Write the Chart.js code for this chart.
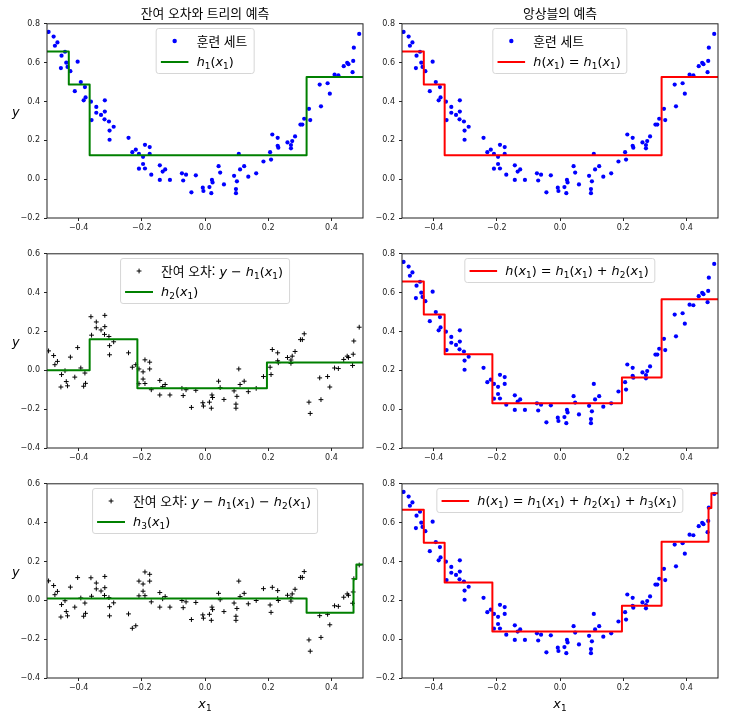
<!DOCTYPE html>
<html lang="ko">
<head>
<meta charset="UTF-8"/>
<title>잔여 오차와 트리의 예측 / 앙상블의 예측</title>
<script src="https://cdn.jsdelivr.net/npm/chart.js"></script>
<style>
  body { margin: 0; background: #fff; }
  #fig { position: relative; width: 738px; height: 718px; background: #fff; overflow: hidden; }
  .panel { position: absolute; }
  .panel canvas { display: block; }
  .title { position: absolute; width: 316px; top: 4px; font-family: "Noto Sans CJK KR"; font-size: 12.8px; line-height: 17px; text-align: center; color: #000; }
  .ylab { position: absolute; left: 12px; font-family: "DejaVu Sans"; font-style: italic; font-size: 12.8px; line-height: 16px; }
  .xlab { position: absolute; width: 316px; top: 696px; text-align: center; font-family: "DejaVu Sans"; font-size: 12.8px; line-height: 16px; }
  .legend { position: absolute; transform: translateX(-50%); border: 1px solid #d6d6d6; border-radius: 3px;
            background: rgba(255,255,255,0.8); padding: 1px 6px 1px 4px; font-family: "DejaVu Sans"; font-size: 12.8px;
            white-space: nowrap; color: #000; }
  .legend .row { display: flex; align-items: center; height: 21px; }
  .legend svg { flex: none; margin-right: 8px; }
  .ko { font-family: "Noto Sans CJK KR"; }
  sub { font-size: 70%; vertical-align: -0.3em; line-height: 0; font-style: normal; }
</style>
</head>
<body>
<div id="fig">
  <div class="panel" style="left:2px;top:15px"><canvas id="c1" width="369" height="227"></canvas></div>
  <div class="panel" style="left:357px;top:15px"><canvas id="c2" width="369" height="227"></canvas></div>
  <div class="panel" style="left:2px;top:245px"><canvas id="c3" width="369" height="227"></canvas></div>
  <div class="panel" style="left:357px;top:245px"><canvas id="c4" width="369" height="227"></canvas></div>
  <div class="panel" style="left:2px;top:475px"><canvas id="c5" width="369" height="227"></canvas></div>
  <div class="panel" style="left:357px;top:475px"><canvas id="c6" width="369" height="227"></canvas></div>

  <div class="title" style="left:47px">잔여 오차와 트리의 예측</div>
  <div class="title" style="left:402px">앙상블의 예측</div>

  <div class="ylab" style="top:104px">y</div>
  <div class="ylab" style="top:334px">y</div>
  <div class="ylab" style="top:564px">y</div>

  <div class="xlab" style="left:47px"><i>x</i><sub>1</sub></div>
  <div class="xlab" style="left:402px"><i>x</i><sub>1</sub></div>

  <!-- legends -->
  <div class="legend" style="left:205px;top:28px">
    <div class="row"><svg width="28" height="10"><circle cx="14" cy="5" r="2.2" fill="#0000ff"/></svg><span class="ko">훈련 세트</span></div>
    <div class="row"><svg width="28" height="10"><line x1="0" y1="5" x2="28" y2="5" stroke="#008000" stroke-width="2"/></svg><span><i>h</i><sub>1</sub>(<i>x</i><sub>1</sub>)</span></div>
  </div>
  <div class="legend" style="left:560px;top:28px">
    <div class="row"><svg width="28" height="10"><circle cx="14" cy="5" r="2.2" fill="#0000ff"/></svg><span class="ko">훈련 세트</span></div>
    <div class="row"><svg width="28" height="10"><line x1="0" y1="5" x2="28" y2="5" stroke="#ff0000" stroke-width="2"/></svg><span><i>h</i>(<i>x</i><sub>1</sub>) = <i>h</i><sub>1</sub>(<i>x</i><sub>1</sub>)</span></div>
  </div>
  <div class="legend" style="left:205px;top:258px">
    <div class="row"><svg width="28" height="10"><path d="M11.6 5H16.4M14 2.6V7.4" stroke="#000" stroke-width="1"/></svg><span><span class="ko">잔여 오차:</span> <i>y</i> − <i>h</i><sub>1</sub>(<i>x</i><sub>1</sub>)</span></div>
    <div class="row"><svg width="28" height="10"><line x1="0" y1="5" x2="28" y2="5" stroke="#008000" stroke-width="2"/></svg><span><i>h</i><sub>2</sub>(<i>x</i><sub>1</sub>)</span></div>
  </div>
  <div class="legend" style="left:560px;top:258px">
    <div class="row"><svg width="28" height="10"><line x1="0" y1="5" x2="28" y2="5" stroke="#ff0000" stroke-width="2"/></svg><span><i>h</i>(<i>x</i><sub>1</sub>) = <i>h</i><sub>1</sub>(<i>x</i><sub>1</sub>) + <i>h</i><sub>2</sub>(<i>x</i><sub>1</sub>)</span></div>
  </div>
  <div class="legend" style="left:205px;top:488px">
    <div class="row"><svg width="28" height="10"><path d="M11.6 5H16.4M14 2.6V7.4" stroke="#000" stroke-width="1"/></svg><span><span class="ko">잔여 오차:</span> <i>y</i> − <i>h</i><sub>1</sub>(<i>x</i><sub>1</sub>) − <i>h</i><sub>2</sub>(<i>x</i><sub>1</sub>)</span></div>
    <div class="row"><svg width="28" height="10"><line x1="0" y1="5" x2="28" y2="5" stroke="#008000" stroke-width="2"/></svg><span><i>h</i><sub>3</sub>(<i>x</i><sub>1</sub>)</span></div>
  </div>
  <div class="legend" style="left:560px;top:488px">
    <div class="row"><svg width="28" height="10"><line x1="0" y1="5" x2="28" y2="5" stroke="#ff0000" stroke-width="2"/></svg><span><i>h</i>(<i>x</i><sub>1</sub>) = <i>h</i><sub>1</sub>(<i>x</i><sub>1</sub>) + <i>h</i><sub>2</sub>(<i>x</i><sub>1</sub>) + <i>h</i><sub>3</sub>(<i>x</i><sub>1</sub>)</span></div>
  </div>
</div>

<script>
// training set
const trainX = [
  -0.495, -0.479, -0.467, -0.475, -0.443, -0.454, -0.403, -0.439, -0.435, -0.456,
  -0.426, -0.393, -0.380, -0.412, -0.378, -0.384, -0.361, -0.317, -0.344, -0.344,
  -0.329, -0.317, -0.359, -0.318, -0.304, -0.289, -0.302, -0.302, -0.242,
  -0.219, -0.230, -0.190, -0.175, -0.209, -0.196, -0.175, -0.196, -0.209, -0.190,
  -0.170, -0.143, -0.134, -0.126, -0.143, -0.111, -0.073, -0.060, -0.069, -0.029,
  -0.043, -0.007, -0.005, 0.014,
  0.020, 0.022, 0.024, 0.043, 0.048, 0.060, 0.092, 0.101, 0.098, 0.098,
  0.107, 0.111, 0.124, 0.137, 0.162, 0.185, 0.206, 0.209, 0.213, 0.230,
  0.230, 0.232, 0.261,
  0.272, 0.272, 0.276, 0.285, 0.302, 0.308, 0.314, 0.333, 0.329, 0.367,
  0.395, 0.363, 0.388, 0.410, 0.422, 0.439, 0.450, 0.454, 0.467, 0.469,
  0.471, 0.488
];
const trainY = [
  0.758, 0.734, 0.704, 0.687, 0.656, 0.636, 0.605, 0.600, 0.578, 0.572,
  0.556, 0.500, 0.474, 0.453, 0.421, 0.406, 0.399, 0.406, 0.372, 0.342,
  0.331, 0.348, 0.304, 0.308, 0.297, 0.270, 0.250, 0.203, 0.213,
  0.152, 0.139, 0.177, 0.165, 0.130, 0.115, 0.130, 0.078, 0.054, 0.055,
  0.023, 0.071, 0.039, 0.050, -0.004, -0.004, 0.030, 0.023, -0.007, 0.020,
  -0.068, -0.044, -0.061, -0.041,
  -0.072, -0.004, -0.017, 0.067, 0.034, -0.027, 0.017, -0.011, -0.051, -0.072,
  0.130, 0.050, 0.067, 0.013, 0.030, 0.091, 0.139, 0.101, 0.230, 0.213,
  0.172, 0.162, 0.189,
  0.176, 0.159, 0.196, 0.220, 0.281, 0.281, 0.311, 0.304, 0.362, 0.375,
  0.440, 0.487, 0.494, 0.538, 0.535, 0.582, 0.599, 0.592, 0.551, 0.609,
  0.677, 0.748
];

// the three regression trees: split points and leaf values
const tree1Splits = [-0.431, -0.365, 0.3215];
const tree1Values = [0.658, 0.488, 0.123, 0.526];
const tree2Splits = [-0.365, -0.214, 0.196];
const tree2Values = [0.0, 0.160, -0.092, 0.040];
const tree3Splits = [0.3215, 0.470, 0.479];
const tree3Values = [0.009, -0.064, 0.110, 0.185];

const xTicks = [-0.4, -0.2, 0, 0.2, 0.4];
const yTicksData = [-0.2, 0, 0.2, 0.4, 0.6, 0.8];
const yTicksResidual = [-0.4, -0.2, 0, 0.2, 0.4, 0.6];

const tree1 = { splits: tree1Splits, values: tree1Values };
const tree2 = { splits: tree2Splits, values: tree2Values };
const tree3 = { splits: tree3Splits, values: tree3Values };

function predict(t, x) {
  let i = 0;
  while (i < t.splits.length && x > t.splits[i]) i++;
  return t.values[i];
}

// step line of the summed trees over [-0.5, 0.5]
function stepLine(trees) {
  const cuts = [...new Set(trees.flatMap(t => t.splits))].sort((a, b) => a - b);
  const edges = [-0.5, ...cuts, 0.5];
  const pts = [];
  for (let i = 0; i < edges.length - 1; i++) {
    const mid = (edges[i] + edges[i + 1]) / 2;
    const v = trees.reduce((s, t) => s + predict(t, mid), 0);
    pts.push({ x: edges[i], y: v }, { x: edges[i + 1], y: v });
  }
  return pts;
}

const trainPts = trainX.map((x, i) => ({ x: x, y: trainY[i] }));
const resid1 = trainX.map((x, i) => ({ x: x, y: trainY[i] - predict(tree1, x) }));
const resid2 = trainX.map((x, i) => ({ x: x, y: trainY[i] - predict(tree1, x) - predict(tree2, x) }));

const fmt = v => (Math.abs(v) < 1e-9 ? 0 : v).toFixed(1).replace('-', '\u2212');

// matplotlib style frame on all four sides
const frame = {
  id: 'frame',
  afterDatasetsDraw(chart) {
    const a = chart.chartArea, c = chart.ctx;
    c.save();
    c.strokeStyle = '#222';
    c.lineWidth = 1;
    c.strokeRect(a.left, a.top, a.right - a.left, a.bottom - a.top);
    c.restore();
  }
};

function axis(min, max, ticks, isX) {
  return {
    type: 'linear', min: min, max: max,
    afterBuildTicks: s => { s.ticks = ticks.map(v => ({ value: v })); },
    afterFit: s => { if (isX) s.height = 24; else s.width = 45; },
    border: { display: false },
    grid: { drawOnChartArea: false, drawTicks: true, tickLength: 3, tickColor: '#222' },
    ticks: { padding: isX ? 2 : 4, color: '#222', font: { family: 'DejaVu Sans', size: 8 },
             callback: v => fmt(v), autoSkip: false, maxRotation: 0 }
  };
}

function panel(id, pts, residual, line, color, yMin, yMax, yTicks) {
  new Chart(document.getElementById(id), {
    type: 'scatter',
    data: {
      datasets: [
        { data: line, showLine: true, borderColor: color, borderWidth: 2, pointRadius: 0,
          borderJoinStyle: 'round', fill: false, tension: 0, order: 0 },
        residual
          ? { data: pts, pointStyle: 'cross', pointRadius: 2.4, borderColor: '#000', borderWidth: 1, order: 1 }
          : { data: pts, pointStyle: 'circle', pointRadius: 2.1, backgroundColor: '#0000ff', borderWidth: 0, order: 1 }
      ]
    },
    options: {
      responsive: false, animation: false,
      layout: { padding: { left: 0, top: 6, right: 8, bottom: 0 } },
      plugins: { legend: { display: false }, tooltip: { enabled: false } },
      scales: { x: axis(-0.5, 0.5, xTicks, true), y: axis(yMin, yMax, yTicks, false) }
    },
    plugins: [frame]
  });
}

panel('c1', trainPts, false, stepLine([tree1]), '#008000', -0.2, 0.8, yTicksData);
panel('c2', trainPts, false, stepLine([tree1]), '#ff0000', -0.2, 0.8, yTicksData);
panel('c3', resid1, true, stepLine([tree2]), '#008000', -0.4, 0.6, yTicksResidual);
panel('c4', trainPts, false, stepLine([tree1, tree2]), '#ff0000', -0.2, 0.8, yTicksData);
panel('c5', resid2, true, stepLine([tree3]), '#008000', -0.4, 0.6, yTicksResidual);
panel('c6', trainPts, false, stepLine([tree1, tree2, tree3]), '#ff0000', -0.2, 0.8, yTicksData);
</script>
</body>
</html>
